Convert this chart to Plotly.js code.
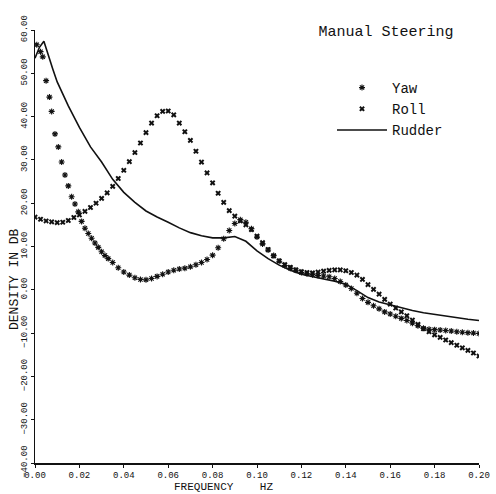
<!DOCTYPE html>
<html><head><meta charset="utf-8">
<script src="https://cdn.plot.ly/plotly-3.0.1.min.js"></script>
<style>html,body{margin:0;padding:0;background:#fff;} #chart{width:496px;height:494px;}</style>
</head><body><div id="chart"></div>
<script>
// Frequency in Hz, spectral density in dB
const rudderFreq = [0.000,0.002,0.004,0.006,0.008,0.010,0.0128,0.015,0.020,0.025,0.030,0.035,0.040,0.045,0.050,0.055,0.060,0.065,0.070,0.075,0.080,0.085,0.090,0.095,0.100,0.105,0.110,0.115,0.120,0.125,0.130,0.135,0.140,0.145,0.150,0.155,0.160,0.165,0.170,0.175,0.180,0.185,0.190,0.195,0.200];
const rudderDensity = [53.5,56.0,57.4,54.0,51.0,48.0,44.9,42.5,37.5,33.0,29.5,25.5,22.5,20.2,18.2,16.8,15.6,14.3,13.2,12.5,12.0,12.0,12.3,11.2,9.0,7.2,5.7,4.5,3.6,3.0,2.5,2.0,1.3,-0.2,-1.8,-2.8,-3.5,-4.2,-4.8,-5.3,-5.7,-6.1,-6.5,-6.8,-7.1];

const yawFreq = [0.0008,0.0025,0.0035,0.005,0.0065,0.0075,0.009,0.0105,0.012,0.0135,0.015,0.0165,0.018,0.0195,0.021,0.0225,0.024,0.0255,0.027,0.0285,0.030,0.0315,0.033,0.035,0.0375,0.040,0.0425,0.045,0.0475,0.050,0.0525,0.055,0.0575,0.060,0.0625,0.065,0.0675,0.070,0.0725,0.075,0.0775,0.080,0.0825,0.085,0.0875,0.090,0.0925,0.095,0.0975,0.100,0.1025,0.105,0.1075,0.110,0.1125,0.115,0.1175,0.120,0.1225,0.125,0.1275,0.130,0.1325,0.135,0.1375,0.140,0.1425,0.145,0.1475,0.150,0.1525,0.155,0.1575,0.160,0.1625,0.165,0.1675,0.170,0.1725,0.175,0.1775,0.180,0.1825,0.185,0.1875,0.190,0.1925,0.195,0.1975,0.200];
const yawDensity = [56.6,55.0,53.8,48.3,44.5,41.2,36.0,33.0,29.5,26.5,24.0,21.5,19.8,18.0,15.8,14.2,13.0,11.9,10.8,9.8,8.8,7.9,7.2,6.3,5.1,4.1,3.4,2.8,2.4,2.3,2.6,3.1,3.6,4.1,4.5,4.8,5.0,5.3,5.8,6.3,7.0,8.0,9.7,11.8,13.7,15.3,16.2,15.6,14.1,12.2,10.6,9.2,7.9,6.6,5.6,5.0,4.5,4.0,3.7,3.5,3.3,3.2,3.0,2.6,1.9,1.1,0.3,-0.8,-2.0,-2.9,-3.7,-4.4,-5.1,-5.6,-6.1,-6.6,-7.1,-7.7,-8.3,-8.9,-9.1,-9.2,-9.3,-9.4,-9.5,-9.7,-9.8,-9.9,-10.0,-10.1];

const rollFreq = [0.000,0.0025,0.005,0.0075,0.010,0.0125,0.015,0.0175,0.020,0.0225,0.025,0.0275,0.030,0.0325,0.035,0.0375,0.040,0.0425,0.045,0.0475,0.050,0.0525,0.055,0.0575,0.060,0.0625,0.065,0.0675,0.070,0.0725,0.075,0.0775,0.080,0.0825,0.085,0.0875,0.090,0.0925,0.095,0.0975,0.100,0.1025,0.105,0.1075,0.110,0.1125,0.115,0.1175,0.120,0.1225,0.125,0.1275,0.130,0.1325,0.135,0.1375,0.140,0.1425,0.145,0.1475,0.150,0.1525,0.155,0.1575,0.160,0.1625,0.165,0.1675,0.170,0.1725,0.175,0.1775,0.180,0.1825,0.185,0.1875,0.190,0.1925,0.195,0.1975,0.200];
const rollDensity = [16.8,16.3,15.9,15.7,15.5,15.6,16.0,16.7,17.3,18.1,19.0,20.0,21.1,22.4,23.9,25.7,27.6,29.6,31.7,33.9,36.3,38.5,40.2,41.2,41.3,40.4,38.5,36.5,34.5,32.0,29.5,27.0,24.7,22.3,20.2,18.3,17.0,15.9,15.0,13.9,12.4,10.9,9.3,7.8,6.7,5.8,5.2,4.6,4.2,4.0,3.9,4.1,4.3,4.5,4.6,4.6,4.4,4.0,3.4,2.4,1.2,0.1,-1.0,-2.2,-3.3,-4.2,-5.1,-6.0,-7.0,-8.0,-9.0,-9.7,-10.4,-11.0,-11.6,-12.2,-12.8,-13.4,-14.0,-14.6,-15.3];

const xTicks = [0.00,0.02,0.04,0.06,0.08,0.10,0.12,0.14,0.16,0.18,0.20];
const yTicks = [-40,-30,-20,-10,0,10,20,30,40,50,60];
const xTitle = 'FREQUENCY\u00a0\u00a0\u00a0\u00a0HZ';
const yTitle = 'DENSITY IN DB';

const ink = '#111';
const traces = [
  {x: yawFreq, y: yawDensity, name: 'Yaw', mode: 'markers', type: 'scatter',
   marker: {symbol: 'asterisk-open', size: 5, color: ink, line: {color: ink, width: 1.1}}},
  {x: rollFreq, y: rollDensity, name: 'Roll', mode: 'markers', type: 'scatter',
   marker: {symbol: 'x', size: 5, color: ink, line: {width: 0}}},
  {x: rudderFreq, y: rudderDensity, name: 'Rudder', mode: 'lines', type: 'scatter',
   line: {color: ink, width: 1.6}}
];

// plot area in page pixels
const L = 35, R = 479, T = 30, B = 463;
const px = v => (v - L) / (R - L);
const py = v => (B - v) / (B - T);

const layout = {
  width: 496, height: 494,
  paper_bgcolor: '#fff', plot_bgcolor: '#fff',
  margin: {l: L, r: 496 - R, t: T, b: 494 - B, autoexpand: false},
  font: {family: 'Liberation Mono, DejaVu Sans Mono, monospace', color: ink},
  title: {text: 'Manual Steering', font: {family: 'Liberation Mono', size: 15, color: ink},
          xref: 'container', yref: 'container', x: 386/496, y: 1 - 31/494, xanchor: 'center', yanchor: 'middle'},
  showlegend: true,
  legend: {xref: 'paper', yref: 'paper', x: px(332), y: py(72), xanchor: 'left', yanchor: 'top',
           font: {family: 'Liberation Mono', size: 14, color: ink}, bgcolor: 'rgba(0,0,0,0)', itemwidth: 50},
  xaxis: {range: [0, 0.2], tickvals: xTicks, tickformat: '.2f', showgrid: false, zeroline: false, automargin: false,
          showline: true, linecolor: ink, linewidth: 1.5, ticks: 'outside', ticklen: 3, tickcolor: ink,
          tickfont: {family: 'Liberation Mono', size: 9, color: ink}},
  yaxis: {range: [-40, 60], tickvals: yTicks, tickformat: '.2f', tickangle: -90, showgrid: false, zeroline: false, automargin: false,
          showline: true, linecolor: ink, linewidth: 1.5, ticks: 'outside', ticklen: 3, tickcolor: ink,
          tickfont: {family: 'Liberation Mono', size: 9, color: ink}},
  annotations: [
    {text: xTitle, xref: 'paper', yref: 'paper', x: px(172), y: py(487), xanchor: 'left', yanchor: 'middle',
     showarrow: false, font: {family: 'Liberation Mono', size: 11, color: ink}},
    {text: yTitle, xref: 'paper', yref: 'paper', x: px(14), y: py(279), xanchor: 'center', yanchor: 'middle',
     textangle: -90, showarrow: false, font: {family: 'Liberation Mono', size: 13, color: ink}}
  ]
};

Plotly.newPlot('chart', traces, layout, {staticPlot: true, displayModeBar: false});
</script>
</body></html>
